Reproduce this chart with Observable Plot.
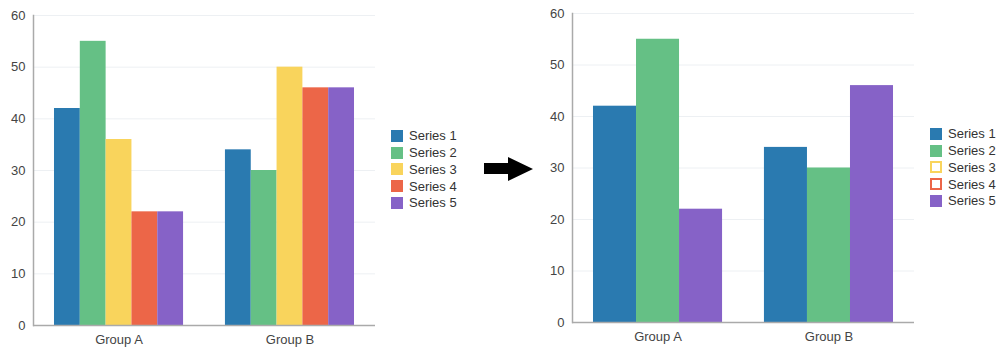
<!DOCTYPE html>
<html><head><meta charset="utf-8">
<script src="https://cdn.jsdelivr.net/npm/d3@7"></script>
<script src="https://cdn.jsdelivr.net/npm/@observablehq/plot@0.6"></script>
<style>
body{margin:0;background:#fff;font-family:"Liberation Sans",Arial,sans-serif;}
#root{position:relative;width:1000px;height:348px;overflow:hidden;background:#fff;}
.chart{position:absolute;top:0;}
.legend{position:absolute;font-size:13px;color:#333;line-height:1;}
.legend .item{display:flex;align-items:center;height:16.75px;white-space:nowrap;}
.legend .sw{width:12px;height:12px;box-sizing:border-box;margin-right:6px;flex:none;}
#arrow{position:absolute;left:0;top:0;}
</style></head><body><div id="root"></div>
<script>
const groups = ["Group A", "Group B"];
const seriesNames = ["Series 1", "Series 2", "Series 3", "Series 4", "Series 5"];
const colors = ["#2a7ab0", "#65c085", "#f9d45c", "#ec6648", "#8662c7"];
const yTicks = [0, 10, 20, 30, 40, 50, 60];
// before: all five series
const beforeGroupA = [42, 55, 36, 22, 22];
const beforeGroupB = [34, 30, 50, 46, 46];
// after: series 3 and 4 hidden
const afterGroupA = [42, 55, null, null, 22];
const afterGroupB = [34, 30, null, null, 46];
const afterVisible = [true, true, false, false, true];

function rows(a, b) {
  const out = [];
  [a, b].forEach((vals, gi) => vals.forEach((v, si) => {
    if (v != null) out.push({group: groups[gi], series: seriesNames[si], value: v});
  }));
  return out;
}

const fontStyle = {fontFamily: '"Liberation Sans", Arial, sans-serif', fontSize: "13px", color: "#444", background: "transparent", overflow: "visible"};

function place(svg, left) {
  svg.classList.add("chart");
  svg.style.left = left + "px";
  return svg;
}

function chart(data, left, marginTop, marginBottom) {
  const domain = seriesNames.filter(s => data.some(d => d.series === s));
  const common = {width: 380, height: 348, marginLeft: 33, marginRight: 5, marginTop, marginBottom, style: fontStyle};
  // background layer: grid, y axis
  const back = Plot.plot({
    ...common,
    x: {domain: groups, axis: null},
    y: {domain: [0, 60], label: null},
    marks: [
      Plot.ruleY(yTicks, {stroke: "#edf0f3", strokeWidth: 1}),
      Plot.axisY({ticks: yTicks, tickSize: 0, tickPadding: 8, label: null})
    ]
  });
  // foreground: grouped bars
  const front = Plot.plot({
    ...common,
    fx: {domain: groups, paddingInner: 0.245, paddingOuter: 0.1228, round: false, label: null},
    x: {domain, padding: 0, round: false, axis: null},
    y: {domain: [0, 60], axis: null},
    color: {domain: seriesNames, range: colors},
    marks: [
      Plot.barY(data, {fx: "group", x: "series", y: "value", fill: "series"}),
      Plot.axisFx({anchor: "bottom", tickSize: 0, tickPadding: 9, label: null})
    ]
  });
  // axis lines on top
  const lines = Plot.plot({
    ...common,
    x: {domain: groups, axis: null},
    y: {domain: [0, 60], axis: null},
    marks: [
      Plot.ruleY([0], {stroke: "#aaa", strokeWidth: 1.5}),
      Plot.frame({anchor: "left", stroke: "#aaa", strokeWidth: 1.5})
    ]
  });
  return [place(back, left), place(front, left), place(lines, left)];
}

function legend(left, top, visible) {
  const div = document.createElement("div");
  div.className = "legend";
  div.style.left = left + "px";
  div.style.top = top + "px";
  seriesNames.forEach((s, i) => {
    const item = document.createElement("div");
    item.className = "item";
    const sw = document.createElement("div");
    sw.className = "sw";
    if (visible[i]) sw.style.background = colors[i];
    else { sw.style.background = "#fff"; sw.style.border = "2px solid " + colors[i]; }
    const t = document.createElement("span");
    t.textContent = s;
    item.append(sw, t);
    div.append(item);
  });
  return div;
}

const root = document.getElementById("root");
root.append(...chart(rows(beforeGroupA, beforeGroupB), 0, 15, 23));
root.append(...chart(rows(afterGroupA, afterGroupB), 539, 13, 26));
root.append(legend(391, 127.6, [true, true, true, true, true]));
root.append(legend(930, 125.6, afterVisible));

const ns = "http://www.w3.org/2000/svg";
const arrow = document.createElementNS(ns, "svg");
arrow.setAttribute("id", "arrow");
arrow.setAttribute("width", 1000);
arrow.setAttribute("height", 348);
const poly = document.createElementNS(ns, "polygon");
poly.setAttribute("points", "484,163 508,163 508,157 533,169 508,181 508,174 484,174");
poly.setAttribute("fill", "#000");
arrow.append(poly);
root.append(arrow);
</script>
</body></html>
